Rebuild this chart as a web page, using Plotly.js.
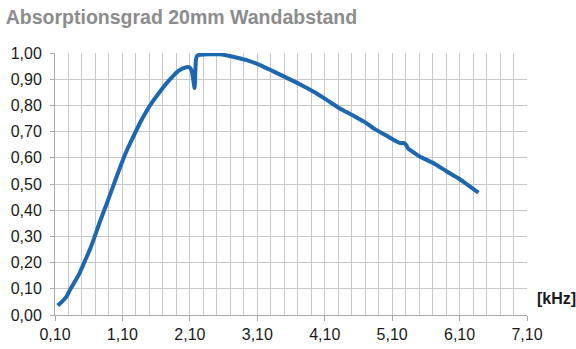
<!DOCTYPE html>
<html>
<head>
<meta charset="utf-8">
<script src="https://cdn.plot.ly/plotly-3.0.1.min.js"></script>
<style>html,body{margin:0;padding:0;background:#fff;}#chart{width:576px;height:349px;}</style>
</head>
<body>
<div id="chart"></div>
<script>
const chartTitle = "Absorptionsgrad 20mm Wandabstand";
const unitLabel = "[kHz]";
const freqKHz = [0.14, 0.20, 0.27, 0.32, 0.40, 0.47, 0.55, 0.61, 0.69, 0.76, 0.86, 0.96, 1.06, 1.16, 1.26, 1.35, 1.45, 1.55, 1.65, 1.75, 1.85, 1.95, 2.05, 2.10, 2.13, 2.17, 2.19, 2.21, 2.25, 2.40, 2.54, 2.74, 2.94, 3.14, 3.33, 3.53, 3.73, 3.93, 4.13, 4.32, 4.52, 4.72, 4.82, 5.02, 5.15, 5.22, 5.28, 5.31, 5.34, 5.40, 5.51, 5.71, 5.91, 6.10, 6.25, 6.38];
const absorption = [0.036, 0.05, 0.07, 0.095, 0.13, 0.163, 0.21, 0.245, 0.30, 0.352, 0.42, 0.49, 0.56, 0.625, 0.68, 0.728, 0.775, 0.815, 0.85, 0.883, 0.912, 0.935, 0.946, 0.944, 0.93, 0.866, 0.975, 0.99, 0.993, 0.995, 0.995, 0.986, 0.973, 0.954, 0.931, 0.906, 0.881, 0.853, 0.821, 0.789, 0.761, 0.732, 0.713, 0.684, 0.664, 0.656, 0.656, 0.648, 0.634, 0.624, 0.605, 0.58, 0.548, 0.519, 0.491, 0.467];
const xTickVals = [0.1, 1.1, 2.1, 3.1, 4.1, 5.1, 6.1, 7.1];
const xTickText = ["0,10", "1,10", "2,10", "3,10", "4,10", "5,10", "6,10", "7,10"];

const gridCol = "#c8c8c8";
const data = [{
  x: freqKHz, y: absorption, type: "scatter", mode: "lines",
  line: {color: "#1c67b0", width: 4, shape: "spline", smoothing: 0.5}, hoverinfo: "skip"
}];
const layout = {
  width: 576, height: 349,
  margin: {l: 55, r: 49, t: 53, b: 34},
  paper_bgcolor: "#fff", plot_bgcolor: "#fff",
  separators: ",.",
  font: {family: "Liberation Sans, Arial, sans-serif", color: "#1a1a1a", size: 16},
  showlegend: false,
  title: {text: chartTitle, x: 0.01, xanchor: "left", xref: "container", y: 0.95, yanchor: "middle",
    font: {family: "Liberation Sans, Arial, sans-serif", size: 19.5, color: "#8c8c8c", weight: "bold"}},
  xaxis: {
    range: [0.1, 7.1], tickvals: xTickVals, ticktext: xTickText,
    showgrid: true, gridcolor: gridCol, gridwidth: 1,
    ticks: "outside", ticklen: 5, tickcolor: "#aaaaaa",
    showline: true, linecolor: "#aaaaaa", linewidth: 1,
    zeroline: false,
    minor: {tick0: 0.1, dtick: 0.2, showgrid: true, gridcolor: gridCol, gridwidth: 1, ticks: ""},
    tickfont: {size: 16, color: "#1a1a1a"}
  },
  yaxis: {
    range: [0, 1], tick0: 0, dtick: 0.1, tickformat: ".2f",
    showgrid: true, gridcolor: gridCol, gridwidth: 1,
    ticks: "outside", ticklen: 4, tickcolor: "#aaaaaa",
    showline: true, linecolor: "#aaaaaa", linewidth: 1,
    zeroline: false, ticklabelstandoff: 5,
    tickfont: {size: 16, color: "#1a1a1a"}
  },
  annotations: [{
    text: "<b>" + unitLabel + "</b>", xref: "paper", yref: "paper",
    x: 1, y: 0.063, xanchor: "left", yanchor: "middle", xshift: 8,
    showarrow: false, font: {size: 16, color: "#1a1a1a"}
  }]
};
Plotly.newPlot("chart", data, layout, {displayModeBar: false, staticPlot: true});
</script>
</body>
</html>
